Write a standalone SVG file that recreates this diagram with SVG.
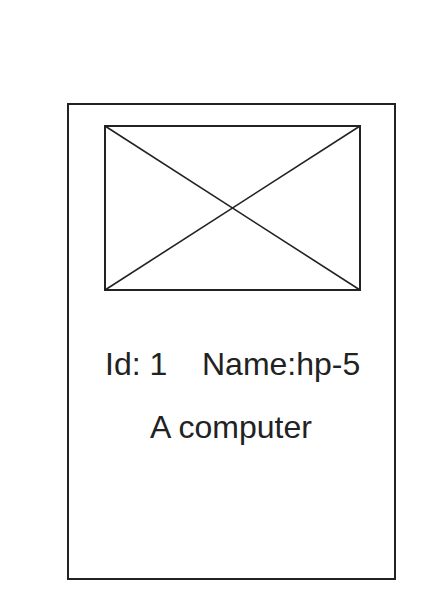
<svg xmlns="http://www.w3.org/2000/svg" width="436" height="611" viewBox="0 0 436 611">
<style>
.box{fill:#fff;stroke:#222;stroke-width:2}
.ln{stroke:#222;stroke-width:1.6;fill:none}
.t{font-family:"Liberation Sans",Arial,sans-serif;font-size:32px;fill:#222}
</style>
<rect width="436" height="611" fill="#fff"/>
<g id="card">
<rect class="box" x="68" y="104" width="327" height="475"/>
</g>
<g id="image">
<rect class="box" x="105" y="126" width="255" height="164"/>
<line class="ln" x1="105" y1="126" x2="360" y2="290"/>
<line class="ln" x1="360" y1="126" x2="105" y2="290"/>
</g>
<g id="labels">
<text class="t" x="105" y="375">Id: 1</text>
<text class="t" x="202" y="375">Name:hp-5</text>
<text class="t" x="231" y="438" text-anchor="middle">A computer</text>
</g>
</svg>
